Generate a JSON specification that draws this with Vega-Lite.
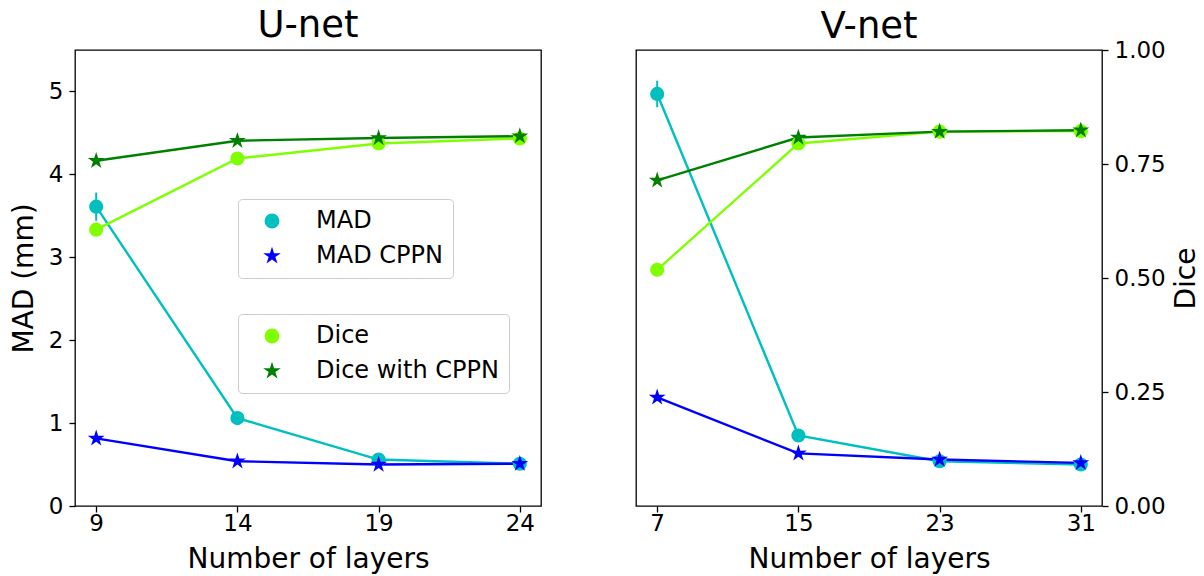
{
  "$schema": "https://vega.github.io/schema/vega-lite/v6.json",
  "padding": {"left": 9, "top": 6, "right": 0, "bottom": 0},
  "background": "white",
  "datasets": {
    "unet_mad": [
      {"layers": 9, "series": "MAD", "value": 3.61, "err": 0.17},
      {"layers": 14, "series": "MAD", "value": 1.06, "err": 0.03},
      {"layers": 19, "series": "MAD", "value": 0.56, "err": 0.02},
      {"layers": 24, "series": "MAD", "value": 0.51, "err": 0.02},
      {"layers": 9, "series": "MAD CPPN", "value": 0.815, "err": 0.03},
      {"layers": 14, "series": "MAD CPPN", "value": 0.54, "err": 0.02},
      {"layers": 19, "series": "MAD CPPN", "value": 0.5, "err": 0.02},
      {"layers": 24, "series": "MAD CPPN", "value": 0.51, "err": 0.02}
    ],
    "unet_dice": [
      {"layers": 9, "series": "Dice", "value": 0.606, "err": 0.005},
      {"layers": 14, "series": "Dice", "value": 0.762, "err": 0.004},
      {"layers": 19, "series": "Dice", "value": 0.795, "err": 0.003},
      {"layers": 24, "series": "Dice", "value": 0.806, "err": 0.003},
      {"layers": 9, "series": "Dice with CPPN", "value": 0.757, "err": 0.004},
      {"layers": 14, "series": "Dice with CPPN", "value": 0.801, "err": 0.003},
      {"layers": 19, "series": "Dice with CPPN", "value": 0.807, "err": 0.003},
      {"layers": 24, "series": "Dice with CPPN", "value": 0.811, "err": 0.003}
    ],
    "vnet_mad": [
      {"layers": 7, "series": "MAD", "value": 4.97, "err": 0.16},
      {"layers": 15, "series": "MAD", "value": 0.85, "err": 0.03},
      {"layers": 23, "series": "MAD", "value": 0.54, "err": 0.02},
      {"layers": 31, "series": "MAD", "value": 0.5, "err": 0.02},
      {"layers": 7, "series": "MAD CPPN", "value": 1.31, "err": 0.04},
      {"layers": 15, "series": "MAD CPPN", "value": 0.635, "err": 0.02},
      {"layers": 23, "series": "MAD CPPN", "value": 0.56, "err": 0.02},
      {"layers": 31, "series": "MAD CPPN", "value": 0.52, "err": 0.02}
    ],
    "vnet_dice": [
      {"layers": 7, "series": "Dice", "value": 0.518, "err": 0.006},
      {"layers": 15, "series": "Dice", "value": 0.795, "err": 0.004},
      {"layers": 23, "series": "Dice", "value": 0.821, "err": 0.003},
      {"layers": 31, "series": "Dice", "value": 0.822, "err": 0.003},
      {"layers": 7, "series": "Dice with CPPN", "value": 0.714, "err": 0.005},
      {"layers": 15, "series": "Dice with CPPN", "value": 0.808, "err": 0.003},
      {"layers": 23, "series": "Dice with CPPN", "value": 0.821, "err": 0.003},
      {"layers": 31, "series": "Dice with CPPN", "value": 0.824, "err": 0.003}
    ]
  },
  "config": {
    "font": "DejaVu Sans",
    "view": {"stroke": "#000000", "strokeWidth": 1.3},
    "axis": {
      "grid": false, "domain": false, "tickColor": "#000000", "tickSize": 6, "tickWidth": 1.3,
      "labelFont": "DejaVu Sans", "labelFontSize": 23, "labelColor": "#000000", "labelPadding": 6,
      "titleFont": "DejaVu Sans", "titleFontSize": 28, "titleFontWeight": "normal", "titleColor": "#000000"
    },
    "axisX": {"labelPadding": 0, "titlePadding": 10},
    "title": {"font": "DejaVu Sans", "fontSize": 37, "fontWeight": "normal", "color": "#000000", "anchor": "middle", "baseline": "alphabetic"},
    "legend": {
      "fillColor": "#ffffff", "strokeColor": "#cccccc", "cornerRadius": 4, "padding": 10,
      "labelFont": "DejaVu Sans", "labelFontSize": 24, "labelColor": "#000000", "labelLimit": 400,
      "symbolSize": 220, "symbolOffset": 12, "labelOffset": 32, "rowPadding": 11, "symbolStrokeWidth": 0
    }
  },
  "spacing": 93,
  "resolve": {
    "scale": {"color": "independent", "fill": "independent", "shape": "independent"},
    "legend": {"color": "independent", "fill": "independent", "shape": "independent"}
  },
  "hconcat": [
    {
      "width": 466, "height": 456,
      "title": {"text": "U-net", "offset": 5},
      "layer": [
        {
          "data": {"name": "unet_mad"},
          "encoding": {
            "x": {"field": "layers", "type": "quantitative", "scale": {"domain": [8.25, 24.75], "nice": false, "zero": false}, "axis": {"values": [9, 14, 19, 24], "title": "Number of layers"}},
            "y": {"field": "value", "type": "quantitative", "scale": {"domain": [0, 5.5], "nice": false, "zero": false}, "axis": {"values": [0, 1, 2, 3, 4, 5], "title": "MAD (mm)", "titlePadding": 10}}
          },
          "layer": [
            {"mark": {"type": "errorbar", "ticks": false, "thickness": 2}, "encoding": {"yError": {"field": "err"}, "color": {"field": "series", "type": "nominal", "scale": {"domain": ["MAD CPPN", "MAD"], "range": ["#0000FF", "#00BFBF"]}, "legend": null}}},
            {"mark": {"type": "line", "strokeWidth": 2.4}, "encoding": {"color": {"field": "series", "type": "nominal", "scale": {"domain": ["MAD CPPN", "MAD"], "range": ["#0000FF", "#00BFBF"]}, "legend": null}}},
            {"mark": {"type": "point", "filled": true, "opacity": 1, "size": 200, "strokeWidth": 0}, "encoding": {
              "fill": {"field": "series", "type": "nominal", "scale": {"domain": ["MAD", "MAD CPPN"], "range": ["#00BFBF", "#0000FF"]}, "legend": {"title": null, "orient": "none", "legendX": 163, "legendY": 149}},
              "shape": {"field": "series", "type": "nominal", "scale": {"domain": ["MAD", "MAD CPPN"], "range": ["circle", "M0,-1.25L0.279,-0.385L1.189,-0.386L0.452,0.147L0.735,1.011L0,0.475L-0.735,1.011L-0.452,0.147L-1.189,-0.386L-0.279,-0.385Z"]}, "legend": {"title": null, "orient": "none", "legendX": 163, "legendY": 149}}
            }}
          ]
        },
        {
          "data": {"name": "unet_dice"},
          "encoding": {
            "x": {"field": "layers", "type": "quantitative", "scale": {"domain": [8.25, 24.75], "nice": false, "zero": false}},
            "y": {"field": "value", "type": "quantitative", "scale": {"domain": [0, 1], "nice": false, "zero": false}, "axis": null}
          },
          "layer": [
            {"mark": {"type": "errorbar", "ticks": false, "thickness": 2}, "encoding": {"yError": {"field": "err"}, "color": {"field": "series", "type": "nominal", "scale": {"domain": ["Dice with CPPN", "Dice"], "range": ["#008000", "#7FFF00"]}, "legend": null}}},
            {"mark": {"type": "line", "strokeWidth": 2.4}, "encoding": {"color": {"field": "series", "type": "nominal", "scale": {"domain": ["Dice with CPPN", "Dice"], "range": ["#008000", "#7FFF00"]}, "legend": null}}},
            {"mark": {"type": "point", "filled": true, "opacity": 1, "size": 200, "strokeWidth": 0}, "encoding": {
              "fill": {"field": "series", "type": "nominal", "scale": {"domain": ["Dice", "Dice with CPPN"], "range": ["#7FFF00", "#008000"]}, "legend": {"title": null, "orient": "none", "legendX": 163, "legendY": 264}},
              "shape": {"field": "series", "type": "nominal", "scale": {"domain": ["Dice", "Dice with CPPN"], "range": ["circle", "M0,-1.25L0.279,-0.385L1.189,-0.386L0.452,0.147L0.735,1.011L0,0.475L-0.735,1.011L-0.452,0.147L-1.189,-0.386L-0.279,-0.385Z"]}, "legend": {"title": null, "orient": "none", "legendX": 163, "legendY": 264}}
            }}
          ]
        }
      ],
      "resolve": {"scale": {"y": "independent", "color": "independent", "fill": "independent", "shape": "independent"}, "legend": {"color": "independent", "fill": "independent", "shape": "independent"}}
    },
    {
      "width": 466, "height": 456,
      "title": {"text": "V-net", "offset": -7},
      "layer": [
        {
          "data": {"name": "vnet_mad"},
          "encoding": {
            "x": {"field": "layers", "type": "quantitative", "scale": {"domain": [5.8, 32.2], "nice": false, "zero": false}, "axis": {"values": [7, 15, 23, 31], "title": "Number of layers"}},
            "y": {"field": "value", "type": "quantitative", "scale": {"domain": [0, 5.5], "nice": false, "zero": false}, "axis": null}
          },
          "layer": [
            {"mark": {"type": "errorbar", "ticks": false, "thickness": 2}, "encoding": {"yError": {"field": "err"}, "color": {"field": "series", "type": "nominal", "scale": {"domain": ["MAD CPPN", "MAD"], "range": ["#0000FF", "#00BFBF"]}, "legend": null}}},
            {"mark": {"type": "line", "strokeWidth": 2.4}, "encoding": {"color": {"field": "series", "type": "nominal", "scale": {"domain": ["MAD CPPN", "MAD"], "range": ["#0000FF", "#00BFBF"]}, "legend": null}}},
            {"mark": {"type": "point", "filled": true, "opacity": 1, "size": 200, "strokeWidth": 0}, "encoding": {
              "fill": {"field": "series", "type": "nominal", "scale": {"domain": ["MAD", "MAD CPPN"], "range": ["#00BFBF", "#0000FF"]}, "legend": null},
              "shape": {"field": "series", "type": "nominal", "scale": {"domain": ["MAD", "MAD CPPN"], "range": ["circle", "M0,-1.25L0.279,-0.385L1.189,-0.386L0.452,0.147L0.735,1.011L0,0.475L-0.735,1.011L-0.452,0.147L-1.189,-0.386L-0.279,-0.385Z"]}, "legend": null}
            }}
          ]
        },
        {
          "data": {"name": "vnet_dice"},
          "encoding": {
            "x": {"field": "layers", "type": "quantitative", "scale": {"domain": [5.8, 32.2], "nice": false, "zero": false}},
            "y": {"field": "value", "type": "quantitative", "scale": {"domain": [0, 1], "nice": false, "zero": false}, "axis": {"orient": "right", "values": [0, 0.25, 0.5, 0.75, 1], "format": ".2f", "title": "Dice", "titleAngle": 270, "titleBaseline": "top", "titlePadding": 7}}
          },
          "layer": [
            {"mark": {"type": "errorbar", "ticks": false, "thickness": 2}, "encoding": {"yError": {"field": "err"}, "color": {"field": "series", "type": "nominal", "scale": {"domain": ["Dice with CPPN", "Dice"], "range": ["#008000", "#7FFF00"]}, "legend": null}}},
            {"mark": {"type": "line", "strokeWidth": 2.4}, "encoding": {"color": {"field": "series", "type": "nominal", "scale": {"domain": ["Dice with CPPN", "Dice"], "range": ["#008000", "#7FFF00"]}, "legend": null}}},
            {"mark": {"type": "point", "filled": true, "opacity": 1, "size": 200, "strokeWidth": 0}, "encoding": {
              "fill": {"field": "series", "type": "nominal", "scale": {"domain": ["Dice", "Dice with CPPN"], "range": ["#7FFF00", "#008000"]}, "legend": null},
              "shape": {"field": "series", "type": "nominal", "scale": {"domain": ["Dice", "Dice with CPPN"], "range": ["circle", "M0,-1.25L0.279,-0.385L1.189,-0.386L0.452,0.147L0.735,1.011L0,0.475L-0.735,1.011L-0.452,0.147L-1.189,-0.386L-0.279,-0.385Z"]}, "legend": null}
            }}
          ]
        }
      ],
      "resolve": {"scale": {"y": "independent", "color": "independent", "fill": "independent", "shape": "independent"}, "legend": {"color": "independent", "fill": "independent", "shape": "independent"}}
    }
  ]
}
